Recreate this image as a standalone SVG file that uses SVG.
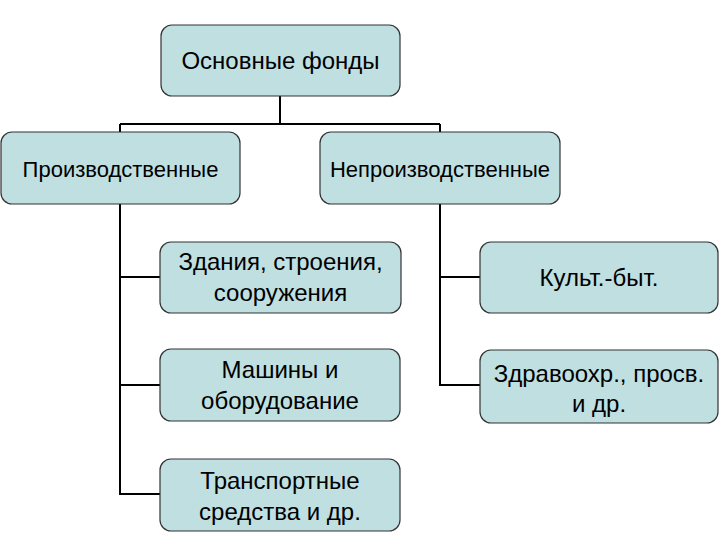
<svg xmlns="http://www.w3.org/2000/svg" width="720" height="540" viewBox="0 0 720 540">
<style>
.box{fill:#bfdfe1;stroke:#333;stroke-width:1.2}
.t{font-family:"Liberation Sans",Arial,sans-serif;font-size:24px;fill:#000;text-anchor:middle}
.s{font-size:22px}
.c{fill:none;stroke:#000;stroke-width:2}
</style>
<rect width="720" height="540" fill="#fff"/>
<g id="connectors">
<path class="c" d="M280 96 V124 M120 124 H440 M120 124 V132 M440 124 V132"/>
<path class="c" d="M120 204 V494 H160 M120 277 H160 M120 385 H160"/>
<path class="c" d="M440 204 V385 H480 M440 277 H480"/>
</g>
<g id="n-osnovnye"><rect class="box" x="161" y="25" width="239" height="71" rx="11"/><text class="t" x="280.5" y="69">Основные фонды</text></g>
<g id="n-proizv"><rect class="box" x="1" y="132" width="239" height="72" rx="11"/><text class="t s" x="120.5" y="177">Производственные</text></g>
<g id="n-neproizv"><rect class="box" x="320" y="132" width="240" height="72" rx="11"/><text class="t s" x="440" y="177">Непроизводственные</text></g>
<g id="n-zdaniya"><rect class="box" x="160" y="242" width="241" height="71" rx="11"/><text class="t" x="280.5" y="270">Здания, строения,</text><text class="t" x="280.5" y="301">сооружения</text></g>
<g id="n-mashiny"><rect class="box" x="160" y="349" width="240" height="72" rx="11"/><text class="t" x="280" y="378">Машины и</text><text class="t" x="280" y="409">оборудование</text></g>
<g id="n-transport"><rect class="box" x="160" y="459" width="240" height="72" rx="11"/><text class="t" x="280" y="489">Транспортные</text><text class="t" x="280" y="520">средства и др.</text></g>
<g id="n-kult"><rect class="box" x="480" y="242" width="238" height="71" rx="11"/><text class="t" x="599" y="286">Культ.-быт.</text></g>
<g id="n-zdrav"><rect class="box" x="480" y="350" width="238" height="73" rx="11"/><text class="t" x="599" y="382">Здравоохр., просв.</text><text class="t" x="599" y="412">и др.</text></g>
</svg>
